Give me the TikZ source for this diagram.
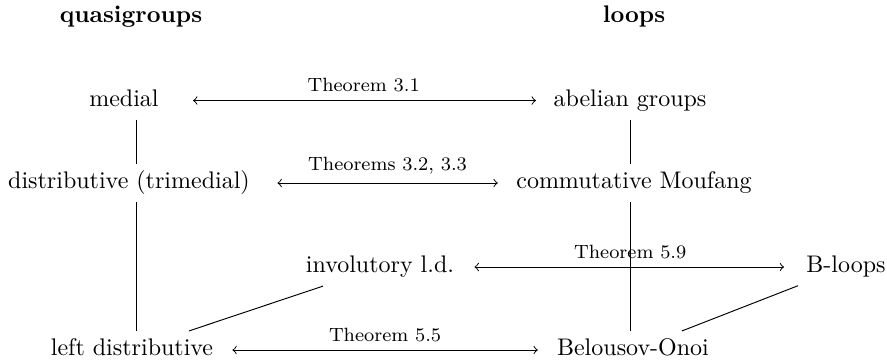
\documentclass[tikz,border=0pt]{standalone}
\usepackage{tikz}
\usetikzlibrary{positioning}

\begin{document}
\begin{tikzpicture}[term/.style={text height=1.6ex, text depth=0.45ex},
                    lbl/.style={font=\footnotesize, above},
                    thm/.style={<->, shorten <=4.5pt, shorten >=4.5pt}]
  \useasboundingbox (0,0) rectangle (12.99,-5.30);
  \node[term] (quasi)  at (1.918,-0.249) {\textbf{quasigroups}};
  \node[term] (loops)  at (9.285,-0.249) {\textbf{loops}};
  \node[term] (medial) at (1.816,-1.472) {medial};
  \node[term] (abel)   at (9.226,-1.472) {abelian groups};
  \node[term] (distr)  at (1.889,-2.680) {distributive (trimedial)};
  \node[term] (cmouf)  at (9.285,-2.680) {commutative Moufang};
  \node[term] (invld)  at (5.565,-3.910) {involutory l.d.};
  \node[term] (bloops) at (12.39,-3.910) {B-loops};
  \node[term] (leftd)  at (1.933,-5.126) {left distributive};
  \node[term] (belon)  at (9.270,-5.126) {Belousov-Onoi};
  \coordinate (lcol) at (2.006,0);
  \coordinate (rcol) at (9.234,0);
  \draw[thm, shorten <=10.8pt, shorten >=3.8pt] (medial) -- node[lbl, pos=0.52] (t31) {Theorem 3.1} (abel);
  \draw[thm, shorten <=8pt, shorten >=4.2pt] (distr) -- node[lbl, pos=0.518] (t323) {Theorems 3.2, 3.3} (cmouf);
  \draw[thm, shorten <=5pt, shorten >=5.8pt] (invld) -- node[lbl] (t59) {Theorem 5.9} (bloops);
  \draw[thm] (leftd) -- node[lbl] (t55) {Theorem 5.5} (belon);
  \draw (medial.south -| lcol) -- (distr.north -| lcol);
  \draw (distr.south -| lcol) -- (leftd.north -| lcol);
  \draw (abel.south -| rcol) -- (cmouf.north -| rcol);
  \draw (cmouf.south -| rcol) -- (belon.north -| rcol);
  \draw (leftd) -- (invld);
  \draw (belon) -- (bloops);
\end{tikzpicture}
\end{document}
